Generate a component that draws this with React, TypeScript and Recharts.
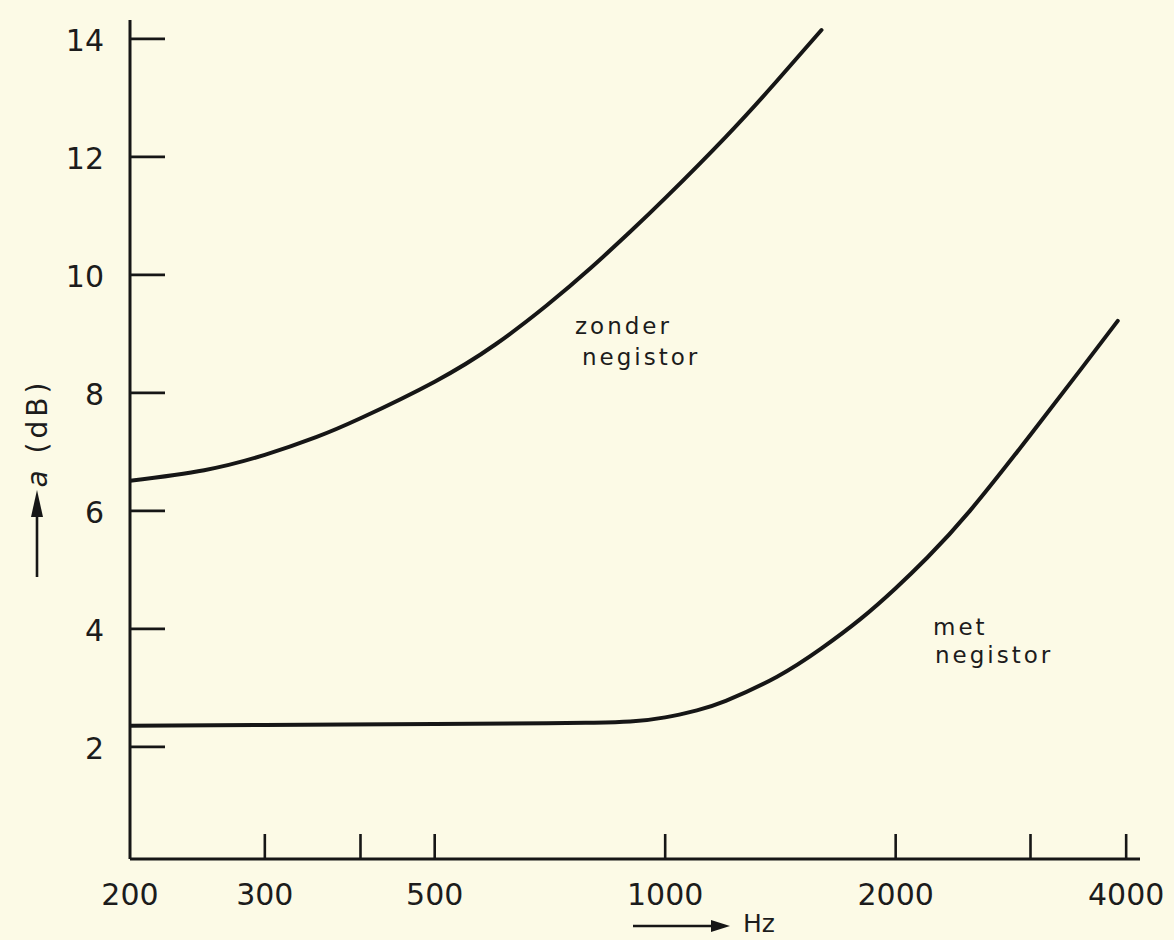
import React from 'react';
import { LineChart, Line, XAxis, YAxis, Customized } from 'recharts';

// "zonder negistor" curve (frequency in Hz, attenuation a in dB)
const zonderFreq = [200, 250, 300, 350, 400, 500, 600, 700, 800, 900, 1000, 1200, 1400, 1600];
const zonderDb = [6.51, 6.69, 6.95, 7.25, 7.57, 8.19, 8.82, 9.48, 10.12, 10.73, 11.3, 12.34, 13.29, 14.15];

// "met negistor" curve
const metFreq = [200, 300, 500, 700, 800, 900, 1000, 1100, 1200, 1400, 1600, 1800, 2000, 2200, 2500, 3000, 3500, 3900];
const metDb = [2.36, 2.37, 2.39, 2.4, 2.41, 2.43, 2.5, 2.62, 2.78, 3.19, 3.67, 4.17, 4.69, 5.21, 6.0, 7.29, 8.42, 9.22];

const xTicks = [200, 300, 400, 500, 1000, 2000, 3000, 4000];
const xTickLabels = ['200', '300', '', '500', '1000', '2000', '', '4000'];
const yTicks = [2, 4, 6, 8, 10, 12, 14];

const zonderData = zonderFreq.map((f, i) => ({ f, a: zonderDb[i] }));
const metData = metFreq.map((f, i) => ({ f, a: metDb[i] }));

const INK = '#161616';
const TEXT = '#1c1c1c';
const BG = '#fcfae6';
const FONT = '"DejaVu Sans", sans-serif';

const XTick = (props: any) => {
  const { x, y, payload } = props;
  const idx = xTicks.indexOf(payload.value);
  const label = idx >= 0 ? xTickLabels[idx] : '';
  return (
    <g>
      {payload.value !== 200 && (
        <line x1={x} x2={x} y1={y} y2={y - 25} stroke={INK} strokeWidth={2.6} />
      )}
      {label && (
        <text x={x} y={y + 46} textAnchor="middle" fontFamily={FONT} fontSize={30} fill={TEXT}>
          {label}
        </text>
      )}
    </g>
  );
};

const YTick = (props: any) => {
  const { x, y, payload } = props;
  return (
    <g>
      <line x1={x} x2={x + 35} y1={y} y2={y} stroke={INK} strokeWidth={2.6} />
      <text x={x - 26} y={y + 12} textAnchor="end" fontFamily={FONT} fontSize={30} fill={TEXT}>
        {payload.value}
      </text>
    </g>
  );
};

const Annotations = () => (
  <g fontFamily={FONT} fill={TEXT}>
    {/* y axis title with arrow */}
    <text
      x={37}
      y={433}
      transform="rotate(-90, 37, 433)"
      textAnchor="middle"
      dominantBaseline="central"
      fontSize={28}
      letterSpacing={4}
    >
      <tspan fontStyle="italic">a</tspan> (dB)
    </text>
    <line x1={37} x2={37} y1={577} y2={510} stroke={INK} strokeWidth={2.6} />
    <polygon points="37,490 31,517 43,517" fill={INK} />

    {/* x axis title with arrow */}
    <line x1={633} x2={715} y1={926} y2={926} stroke={INK} strokeWidth={2.6} />
    <polygon points="730,926 711,920 711,932" fill={INK} />
    <text x={743} y={932} fontSize={25}>
      Hz
    </text>

    {/* curve labels */}
    <text x={575} y={334} fontSize={23} letterSpacing={3}>
      zonder
    </text>
    <text x={582} y={365} fontSize={23} letterSpacing={3}>
      negistor
    </text>
    <text x={933} y={635} fontSize={23} letterSpacing={3}>
      met
    </text>
    <text x={935} y={663} fontSize={23} letterSpacing={3}>
      negistor
    </text>
  </g>
);

export default function App() {
  return (
    <div style={{ position: 'absolute', left: 0, top: 0, width: 1174, height: 940, background: BG }}>
      <LineChart
        width={1174}
        height={940}
        margin={{ top: 20, right: 34, left: 70, bottom: 41 }}
      >
        <XAxis
          dataKey="f"
          type="number"
          scale="log"
          domain={[200, 4170]}
          allowDataOverflow
          ticks={xTicks}
          interval={0}
          height={40}
          tickSize={0}
          tickMargin={0}
          tickLine={false}
          axisLine={{ stroke: INK, strokeWidth: 3 }}
          tick={<XTick />}
        />
        <YAxis
          type="number"
          domain={[0.1, 14.32]}
          allowDataOverflow
          ticks={yTicks}
          interval={0}
          width={60}
          tickSize={0}
          tickMargin={0}
          tickLine={false}
          axisLine={{ stroke: INK, strokeWidth: 3 }}
          tick={<YTick />}
        />
        <Line
          data={zonderData}
          dataKey="a"
          type="natural"
          stroke={INK}
          strokeWidth={4}
          strokeLinecap="round"
          dot={false}
          activeDot={false}
          isAnimationActive={false}
        />
        <Line
          data={metData}
          dataKey="a"
          type="natural"
          stroke={INK}
          strokeWidth={4}
          strokeLinecap="round"
          dot={false}
          activeDot={false}
          isAnimationActive={false}
        />
        <Customized component={Annotations} />
      </LineChart>
    </div>
  );
}
